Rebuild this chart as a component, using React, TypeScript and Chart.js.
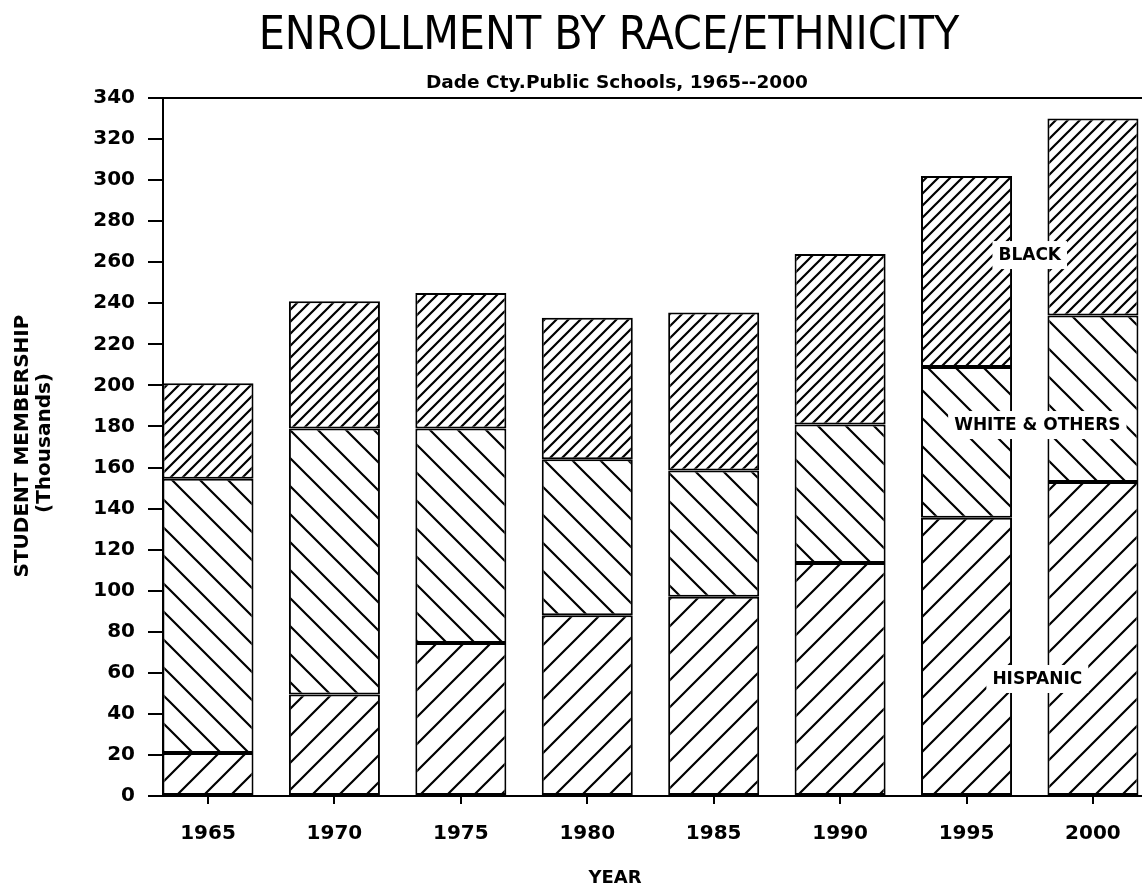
import React, { useEffect, useRef } from 'react';
import { Chart, registerables } from 'chart.js';

Chart.register(...registerables);

// ---- data ----
const years = [1965, 1970, 1975, 1980, 1985, 1990, 1995, 2000];
const hispanic = [21, 49.5, 74.5, 88, 97, 113.5, 135.5, 153];
const whiteOthers = [133.5, 129.5, 104.5, 76, 61.5, 67.5, 73.5, 81];
const black = [46.5, 62, 66, 69, 77, 83, 93, 96];
const yTickValues = [0, 20, 40, 60, 80, 100, 120, 140, 160, 180, 200, 220, 240, 260, 280, 300, 320, 340];
const seriesNames = ['HISPANIC', 'WHITE & OTHERS', 'BLACK'];
const titleText = 'ENROLLMENT BY RACE/ETHNICITY';
const subtitleText = 'Dade Cty.Public Schools, 1965--2000';
const yTitleLines = ['STUDENT MEMBERSHIP', '(Thousands)'];
const xTitleText = 'YEAR';

const BOLD = "'DejaVu Sans', sans-serif";
const NARROW = "'Liberation Sans Narrow', 'DejaVu Sans Condensed', 'Liberation Sans', sans-serif";

function makeHatch(ctx: CanvasRenderingContext2D, size: number, dir: '/' | '\\', lw: number) {
  const c = document.createElement('canvas');
  c.width = size;
  c.height = size;
  const g = c.getContext('2d')!;
  g.fillStyle = '#fff';
  g.fillRect(0, 0, size, size);
  g.strokeStyle = '#000';
  g.lineWidth = lw;
  g.lineCap = 'square';
  g.beginPath();
  if (dir === '/') {
    g.moveTo(-size, size); g.lineTo(size, -size);
    g.moveTo(0, size); g.lineTo(size, 0);
    g.moveTo(0, 2 * size); g.lineTo(2 * size, 0);
  } else {
    g.moveTo(-size, -size); g.lineTo(2 * size, 2 * size);
    g.moveTo(-size, 0); g.lineTo(size, 2 * size);
    g.moveTo(0, -size); g.lineTo(2 * size, size);
  }
  g.stroke();
  return ctx.createPattern(c, 'repeat')!;
}

const decorPlugin = {
  id: 'decor',
  afterDatasetsDraw(chart: any) {
    const { ctx, scales } = chart;
    const x = scales.x;
    const y = scales.y;
    const labels: [string, number, number][] = [
      [seriesNames[2], 1997.5, 263.5],
      [seriesNames[1], 1997.8, 180.7],
      [seriesNames[0], 1997.8, 57],
    ];
    ctx.save();
    ctx.font = `bold 17px ${BOLD}`;
    ctx.textAlign = 'center';
    ctx.textBaseline = 'middle';
    for (const [t, xv, yv] of labels) {
      const cx = x.getPixelForValue(xv);
      const cy = y.getPixelForValue(yv);
      const w = ctx.measureText(t).width;
      ctx.fillStyle = '#fff';
      ctx.fillRect(cx - w / 2 - 6, cy - 14, w + 12, 28);
      ctx.fillStyle = '#000';
      ctx.fillText(t, cx, cy + 1);
    }
    ctx.restore();
  },
  afterDraw(chart: any) {
    const { ctx, chartArea } = chart;
    ctx.save();
    // top frame line
    ctx.strokeStyle = '#000';
    ctx.lineWidth = 2;
    ctx.beginPath();
    ctx.moveTo(chartArea.left - 1, chartArea.top);
    ctx.lineTo(chartArea.right, chartArea.top);
    ctx.stroke();

    ctx.fillStyle = '#000';
    ctx.textAlign = 'center';
    ctx.textBaseline = 'middle';
    ctx.font = `46px ${NARROW}`;
    ctx.fillText(titleText, 609, 37);
    ctx.font = `bold 18.5px ${BOLD}`;
    ctx.fillText(subtitleText, 617, 83);

    ctx.font = `bold 18px ${BOLD}`;
    ctx.fillText(xTitleText, 615, 878);

    ctx.save();
    ctx.translate(23, 446);
    ctx.rotate(-Math.PI / 2);
    ctx.font = `bold 20px ${BOLD}`;
    ctx.fillText(yTitleLines[0], 0, 0);
    ctx.restore();
    ctx.save();
    ctx.translate(45, 443);
    ctx.rotate(-Math.PI / 2);
    ctx.font = `bold 20px ${BOLD}`;
    ctx.fillText(yTitleLines[1], 0, 0);
    ctx.restore();

    ctx.restore();
  },
};

export default function App() {
  const ref = useRef<HTMLCanvasElement>(null);

  useEffect(() => {
    const canvas = ref.current!;
    const ctx = canvas.getContext('2d')!;
    const pHisp = makeHatch(ctx, 27, '/', 2.2);
    const pWhite = makeHatch(ctx, 28, '\\', 2.2);
    const pBlack = makeHatch(ctx, 12, '/', 2.2);

    const mk = (label: string, vals: number[], bg: CanvasPattern) => ({
      label,
      data: years.map((yr, i) => ({ x: yr, y: vals[i] })),
      backgroundColor: bg,
      borderColor: '#000',
      borderWidth: 2,
      borderSkipped: false as const,
      barPercentage: 0.72,
      categoryPercentage: 1,
    });

    const chart = new Chart(canvas, {
      type: 'bar',
      data: {
        datasets: [
          mk(seriesNames[0], hispanic, pHisp),
          mk(seriesNames[1], whiteOthers, pWhite),
          mk(seriesNames[2], black, pBlack),
        ],
      },
      options: {
        responsive: false,
        animation: false,
        layout: { padding: { top: 98, left: 0, right: 0, bottom: 0 } },
        plugins: {
          legend: { display: false },
          tooltip: { enabled: false },
          title: { display: false },
        },
        scales: {
          x: {
            type: 'linear',
            stacked: true,
            offset: false,
            min: 1963.22,
            max: 2001.94,
            afterBuildTicks: (s: any) => {
              s.ticks = years.map((v) => ({ value: v }));
            },
            afterFit: (s: any) => {
              s.height = 91;
            },
            ticks: {
              color: '#000',
              font: { family: BOLD, size: 20, weight: 'bold' },
              padding: 18,
              maxRotation: 0,
              autoSkip: false,
              callback: (v: any) => String(v),
            },
            grid: {
              display: true,
              offset: false,
              drawOnChartArea: false,
              drawTicks: true,
              tickLength: 8,
              color: '#000',
              lineWidth: 2,
            },
            border: { display: true, color: '#000', width: 2 },
          },
          y: {
            type: 'linear',
            stacked: true,
            min: 0,
            max: 340,
            afterBuildTicks: (s: any) => {
              s.ticks = yTickValues.map((v) => ({ value: v }));
            },
            afterFit: (s: any) => {
              s.width = 163;
            },
            ticks: {
              color: '#000',
              font: { family: BOLD, size: 20, weight: 'bold' },
              padding: 13,
              callback: (v: any) => String(v),
            },
            grid: {
              display: true,
              drawOnChartArea: false,
              drawTicks: true,
              tickLength: 15,
              color: '#000',
              lineWidth: 2,
            },
            border: { display: true, color: '#000', width: 2 },
          },
        },
      },
      plugins: [decorPlugin],
    });
    return () => chart.destroy();
  }, []);

  return (
    <div style={{ position: 'absolute', left: 0, top: 0, width: 1142, height: 887, background: '#fff' }}>
      <canvas ref={ref} width={1142} height={887} style={{ display: 'block' }} />
    </div>
  );
}
